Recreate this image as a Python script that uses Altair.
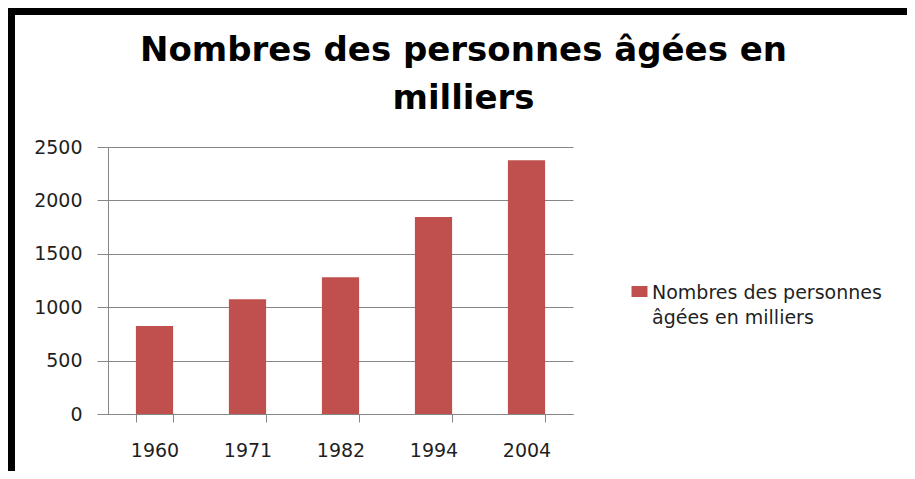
import altair as alt
import pandas as pd

years = ["1960", "1971", "1982", "1994", "2004"]
values = [825, 1075, 1280, 1845, 2375]
legend_lines = ["Nombres des personnes", "âgées en milliers"]
series_name = " ".join(legend_lines)
title_lines = ["Nombres des personnes âgées en", "milliers"]
y_ticks = [0, 500, 1000, 1500, 2000, 2500]

BAR = "#C0504D"
GRID = "#868686"
TXT = "#1f1f1f"

df = pd.DataFrame({"annee": years, "valeur": values, "serie": [series_name] * len(years)})

label_expr = "[" + ", ".join("'" + s + "'" for s in legend_lines) + "]"

bars = alt.Chart(df).mark_bar().encode(
    x=alt.X(
        "annee:N", sort=years, title=None,
        scale=alt.Scale(paddingInner=0.6, paddingOuter=0.3),
        axis=alt.Axis(labelAngle=0, tickBand="extent", ticks=True, tickSize=8,
                      tickColor=GRID, domainColor=GRID, grid=False,
                      labelPadding=19, labelFont="DejaVu Sans", labelFontSize=19,
                      labelColor=TXT),
    ),
    y=alt.Y(
        "valeur:Q", title=None,
        scale=alt.Scale(domain=[0, 2500], nice=False),
        axis=alt.Axis(values=y_ticks, format="d", tickSize=11, tickColor=GRID,
                      domainColor=GRID, grid=True, gridColor=GRID, gridOpacity=1,
                      labelPadding=15, labelFont="DejaVu Sans", labelFontSize=19,
                      labelColor=TXT),
    ),
    color=alt.Color(
        "serie:N", scale=alt.Scale(range=[BAR]),
        legend=alt.Legend(
            title=None, orient="none", legendX=522, legendY=142,
            symbolType="M-1.45,-2.27H1.45V-0.27H-1.45Z", symbolSize=121,
            symbolStrokeWidth=0, symbolOpacity=1,
            labelExpr=label_expr, labelFont="DejaVu Sans", labelFontSize=19,
            labelColor=TXT, labelBaseline="alphabetic",
            labelOffset=3, labelLimit=400, padding=0,
        ),
    ),
)

frame = alt.Chart(pd.DataFrame({"k": [0]})).mark_rect(
    filled=False, stroke="black", strokeWidth=8
).encode(
    x=alt.value(-97), x2=alt.value(820), y=alt.value(-136), y2=alt.value(333)
)

chart = alt.layer(frame, bars).properties(
    width=465, height=267,
    title=alt.TitleParams(
        text=title_lines, font="DejaVu Sans", fontSize=34, fontWeight="bold",
        color="black", anchor="middle", frame="group", dx=123, offset=-136,
        baseline="alphabetic", lineHeight=48,
    ),
    autosize=alt.AutoSizeParams(type="none"),
    padding={"left": 100, "top": 139, "right": 334, "bottom": 57},
).configure(
    view=alt.ViewConfig(strokeWidth=0, stroke="transparent"),
    style={"guide-label": {"lineHeight": 25}},
)

chart.save("out.html", embed_options={"renderer": "svg", "actions": False})
